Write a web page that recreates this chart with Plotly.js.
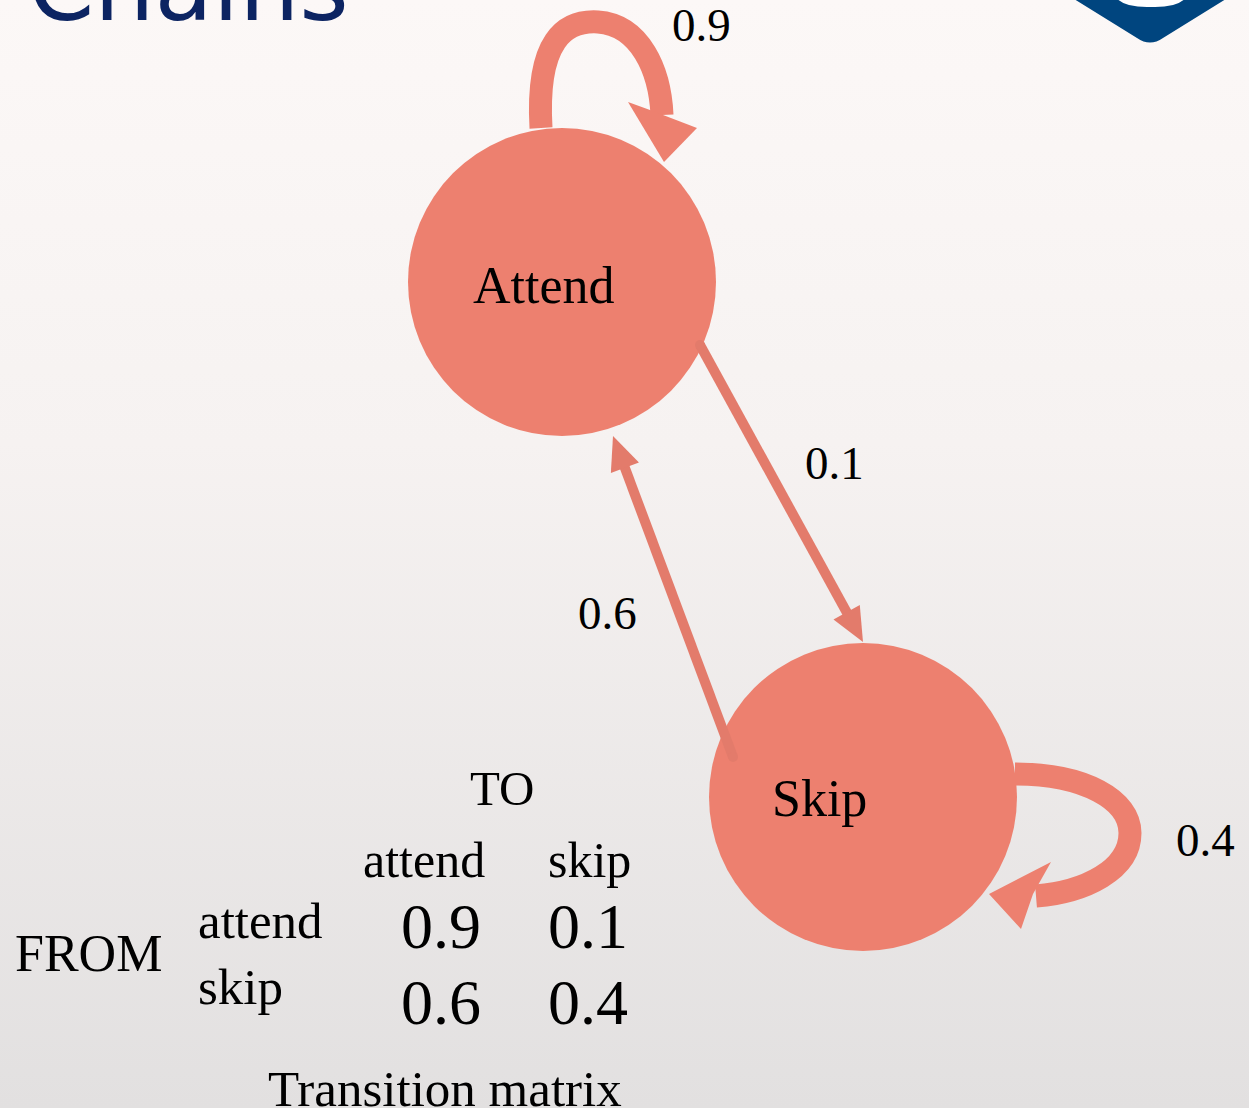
<!DOCTYPE html>
<html>
<head>
<meta charset="utf-8">
<script src="https://cdn.plot.ly/plotly-3.0.1.min.js"></script>
<style>
  html, body { margin: 0; padding: 0; }
  body { width: 1249px; height: 1108px; background: linear-gradient(#fcf8f7 0%, #f6f2f1 40%, #e2e0e0 100%); overflow: hidden; }
  #chart { width: 1249px; height: 1108px; }
</style>
</head>
<body>
<div id="chart"></div>
<script>
// ---------------- data ----------------
const states = ["Attend", "Skip"];
const transitionValues = [
  [0.9, 0.1],
  [0.6, 0.4]
];
const matrixColLabels = ["attend", "skip"];
const matrixRowLabels = ["attend", "skip"];
const matrixToLabel = "TO";
const matrixFromLabel = "FROM";
const matrixCaption = "Transition matrix";
const slideTitle = "Chains";

// ---------------- layout / styling (positions in page pixels) ----------------
const W = 1249, H = 1108;
const nodeColor = "#ED806F";
const arrowColor = "#E37B6B";
const serif = "Liberation Serif, Times New Roman, serif";
const nodeCenter = { Attend: [562, 282], Skip: [863, 797] };
const nodeRadius = 154;
const nodeLabelShift = { Attend: [-18, 3], Skip: [-44, 1] };

// straight edges: start offset and tip offset relative to source/target centers
const straightEdgeGeom = {
  "0-1": { from: [138, 63], to: [0, -155], label: [834, 463] },
  "1-0": { from: [-130, -40], to: [51, 154], label: [607, 613] }
};
// self loops relative to node center
const loopGeom = {
  0: { path: [[-21,-154],[-26,-242],[3,-262],[36,-260],[78,-257],[98,-212],[100,-167]],
       head: [[66,-180],[88,-172],[135,-154],[102,-120]], label: [701, 25] },
  1: { path: [[152,-23],[222,-23],[267,3],[267,36],[267,73],[222,95],[173,99]],
       head: [[188,65],[170,97],[158,132],[126,97]], label: [1205, 840] }
};

function P(c, o) { return [c[0] + o[0], c[1] + o[1]]; }

const shapes = [];
const annotations = [];

// logo in top-right corner
shapes.push({ type: "path", xref: "x", yref: "y", layer: "above",
  path: "M 1066,-6 L 1137,38 Q 1150,47 1163,38 L 1234,-6 Z",
  fillcolor: "#00457F", line: { width: 0 } });
shapes.push({ type: "path", xref: "x", yref: "y", layer: "above",
  path: "M 1114,-6 Q 1120,8 1151,7 Q 1182,8 1188,-6 Z",
  fillcolor: "#FFFFFF", line: { width: 0 } });

// edges built from the transition matrix
for (let i = 0; i < states.length; i++) {
  for (let j = 0; j < states.length; j++) {
    const v = transitionValues[i][j];
    if (i === j) {
      const g = loopGeom[i];
      const c = nodeCenter[states[i]];
      const p = g.path.map(o => P(c, o));
      shapes.push({ type: "path", xref: "x", yref: "y", layer: "above",
        path: `M ${p[0]} C ${p[1]} ${p[2]} ${p[3]} C ${p[4]} ${p[5]} ${p[6]}`,
        line: { color: nodeColor, width: 23 } });
      const h = g.head.map(o => P(c, o));
      shapes.push({ type: "path", xref: "x", yref: "y", layer: "above",
        path: `M ${h[0]} L ${h[1]} L ${h[2]} L ${h[3]} Z`,
        fillcolor: nodeColor, line: { width: 0 } });
      annotations.push({ x: g.label[0], y: g.label[1], text: String(v), showarrow: false,
        font: { family: serif, size: 47, color: "#000" } });
    } else {
      const g = straightEdgeGeom[i + "-" + j];
      const s = P(nodeCenter[states[i]], g.from);
      const t = P(nodeCenter[states[j]], g.to);
      const dx = t[0] - s[0], dy = t[1] - s[1];
      const L = Math.hypot(dx, dy);
      const ux = dx / L, uy = dy / L, nx = -uy, ny = ux;
      const hl = 34, hw = 15;
      const b = [t[0] - ux * hl, t[1] - uy * hl];
      shapes.push({ type: "line", xref: "x", yref: "y", layer: "above",
        x0: s[0], y0: s[1], x1: b[0] + ux * 2, y1: b[1] + uy * 2,
        line: { color: arrowColor, width: 10 } });
      shapes.push({ type: "circle", xref: "x", yref: "y", layer: "above",
        x0: s[0] - 5, x1: s[0] + 5, y0: s[1] - 5, y1: s[1] + 5,
        fillcolor: arrowColor, line: { width: 0 } });
      shapes.push({ type: "path", xref: "x", yref: "y", layer: "above",
        path: `M ${t[0]},${t[1]} L ${b[0] + nx * hw},${b[1] + ny * hw} L ${b[0] - nx * hw},${b[1] - ny * hw} Z`,
        fillcolor: arrowColor, line: { width: 0 } });
      annotations.push({ x: g.label[0], y: g.label[1], text: String(v), showarrow: false,
        font: { family: serif, size: 47, color: "#000" } });
    }
  }
}

// node labels
states.forEach(s => {
  annotations.push({ x: nodeCenter[s][0], y: nodeCenter[s][1], text: s, showarrow: false,
    xshift: nodeLabelShift[s][0], yshift: -nodeLabelShift[s][1],
    font: { family: serif, size: 52, color: "#000" } });
});

// transition matrix table
const colX = [424, 589], headerY = 860;
const rowY = [921, 987];
const numColX = [441, 588], numRowY = [926, 1002];
annotations.push({ x: 502, y: 788, text: matrixToLabel, showarrow: false,
  font: { family: serif, size: 49, color: "#000" } });
annotations.push({ x: 88, y: 953, text: matrixFromLabel, showarrow: false,
  font: { family: serif, size: 52, color: "#000" } });
matrixColLabels.forEach((t, k) => annotations.push({ x: colX[k], y: headerY, text: t, showarrow: false,
  font: { family: serif, size: 50, color: "#000" } }));
matrixRowLabels.forEach((t, k) => annotations.push({ x: 196, y: rowY[k], text: t, showarrow: false, xanchor: "left",
  font: { family: serif, size: 51, color: "#000" } }));
for (let i = 0; i < 2; i++) for (let j = 0; j < 2; j++) {
  annotations.push({ x: numColX[j], y: numRowY[i], text: transitionValues[i][j].toFixed(1), showarrow: false,
    font: { family: serif, size: 64, color: "#000" } });
}
annotations.push({ x: 445, y: 1089, text: matrixCaption, showarrow: false,
  font: { family: serif, size: 51, color: "#000" } });

// slide title (cut off at top)
annotations.push({ x: 26, y: 44, text: slideTitle, showarrow: false, xanchor: "left", yanchor: "bottom",
  font: { family: "DejaVu Sans, sans-serif", size: 95, color: "#0C2462" } });

// nodes as a scatter trace (marker size in px == diameter since 1 unit = 1 px)
const trace = {
  type: "scatter", mode: "markers",
  x: states.map(s => nodeCenter[s][0]),
  y: states.map(s => nodeCenter[s][1]),
  marker: { size: nodeRadius * 2, color: nodeColor, line: { width: 0 }, opacity: 1 },
  hoverinfo: "none", cliponaxis: false
};

const layout = {
  width: W, height: H,
  margin: { l: 0, r: 0, t: 0, b: 0, pad: 0 },
  paper_bgcolor: "rgba(0,0,0,0)", plot_bgcolor: "rgba(0,0,0,0)",
  showlegend: false,
  xaxis: { range: [0, W], visible: false, fixedrange: true },
  yaxis: { range: [H, 0], visible: false, fixedrange: true },
  shapes: shapes, annotations: annotations
};

Plotly.newPlot("chart", [trace], layout, { displayModeBar: false, staticPlot: true });
</script>
</body>
</html>
